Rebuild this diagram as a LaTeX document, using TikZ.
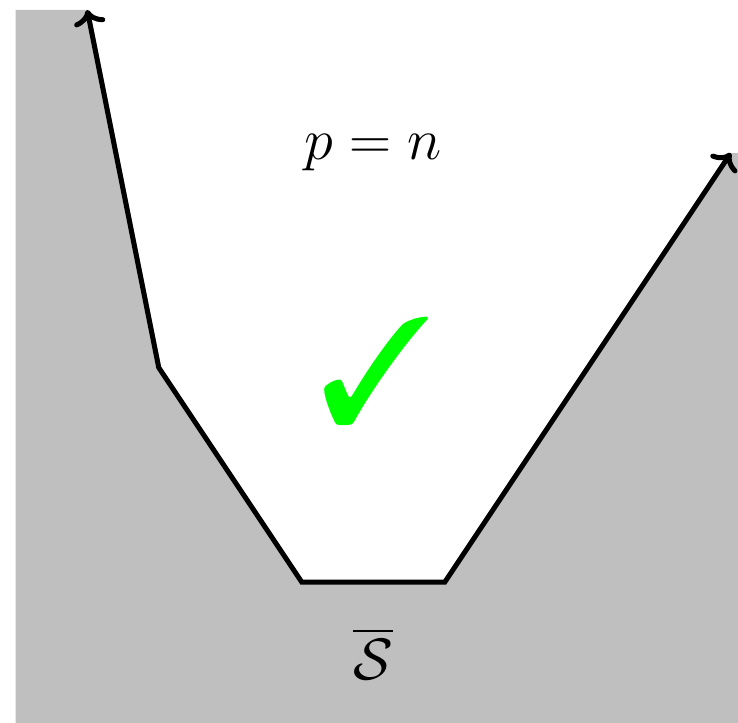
\documentclass[tikz,border=0pt]{standalone}
\usepackage{amsmath, amssymb}
\usepackage{pifont}
\usepackage{tikz}
\usetikzlibrary{
    arrows,
    arrows.meta,
    calc
}

\begin{document}
\begin{tikzpicture}[line width=2pt,
   lbl/.style={font=\huge,scale=1.12}]
\useasboundingbox (-4.22,-1.97) rectangle (6.1,8.14);
% corners of the boundary
\coordinate (top)    at (-3,8);
\coordinate (knee)   at (-2,3);
\coordinate (botl)   at (0,0);
\coordinate (botr)   at (2,0);
\coordinate (right)  at (6,6);
% shaded region below the boundary
\fill[lightgray] (-4,-1.97) -- (-4,8) -- (top) -- (knee) -- (botl) -- (botr)
   -- (right) -- (6.1,6) -- (6.1,-1.97) -- cycle;
% boundary
\draw[<->] (top) -- (knee) -- (botl) -- (botr) -- (right);
% labels
\node[lbl] (cond)  at (1,6)  {$p=n$};
\node[green,font=\fontsize{60}{60}\selectfont] (check) at (1.05,2.95) {\ding{51}};
\node[lbl] (sbar)  at (1,-1) {$\overline{\mathcal{S}}$};
\end{tikzpicture}
\end{document}
